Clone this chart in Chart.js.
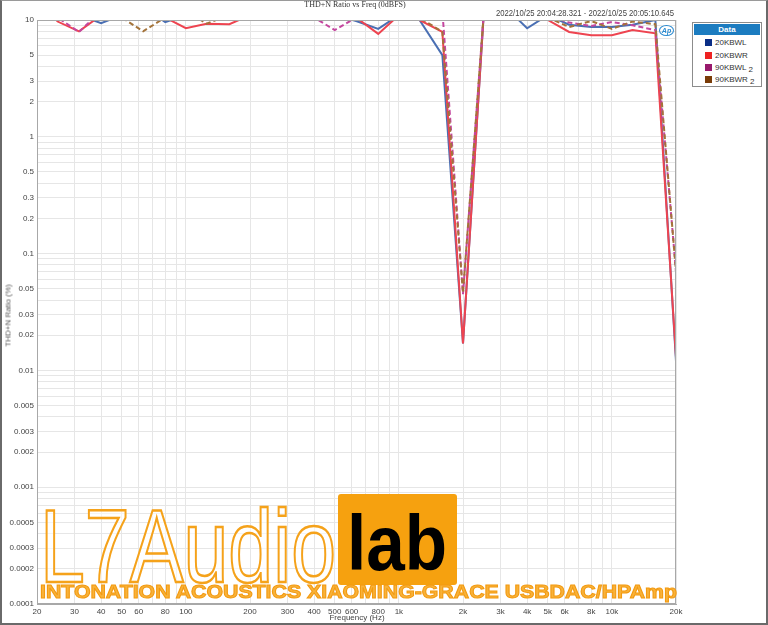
<!DOCTYPE html>
<html><head><meta charset="utf-8">
<script src="https://cdn.jsdelivr.net/npm/chart.js@4"></script>
<style>
html,body{margin:0;padding:0;background:#fff;}
#wrap{position:relative;width:768px;height:625px;overflow:hidden;box-sizing:border-box;}
#frame{position:absolute;left:0;top:0;width:768px;height:625px;box-sizing:border-box;border:2px solid #6a6a6a;border-top:1px solid #9a9a9a;pointer-events:none;}
canvas{position:absolute;left:0;top:0;}
.t{position:absolute;white-space:nowrap;font-family:"Liberation Sans",Arial,sans-serif;color:#444;}
#legend{position:absolute;left:692px;top:22px;width:70px;height:65px;border:1px solid #8c8c8c;background:#fff;box-sizing:border-box;font-family:"Liberation Sans",Arial,sans-serif;}
#legend .hd{height:11px;margin:1px 1px 0 1px;background:#1c7cc0;color:#fff;font-size:8px;font-weight:bold;text-align:center;line-height:11px;}
#legend .row{position:absolute;left:12px;font-size:8px;color:#333;line-height:9px;}
#legend .sw{display:inline-block;width:7px;height:7px;margin-right:3px;vertical-align:-1px;}
#legend .sb{position:relative;top:2px;font-size:8px;margin-left:2px;}
.wm{position:absolute;white-space:nowrap;font-family:"Liberation Sans",Arial,sans-serif;transform-origin:left top;}
</style></head>
<body>
<div id="wrap">
<canvas id="c" width="768" height="625"></canvas>
<div class="t" id="title" style="left:0;width:710px;top:0px;text-align:center;font-family:'Liberation Serif',serif;font-size:8px;color:#333;">THD+N Ratio vs Freq (0dBFS)</div>
<div class="t" id="stamp" style="top:8px;left:496px;font-size:9px;color:#444;transform-origin:left top;">2022/10/25 20:04:28.321 - 2022/10/25 20:05:10.645</div>
<div class="t" id="ytitle" style="left:-40px;top:311px;width:96px;text-align:center;font-size:8px;transform:rotate(-90deg);color:#555;">THD+N Ratio (%)</div>
<div class="t" id="xtitle" style="left:307px;width:100px;top:613px;text-align:center;font-size:8px;color:#444;">Frequency (Hz)</div>
<div class="t" style="left:659px;top:25px;width:15px;height:11px;border:1.5px solid #2a8ad0;border-radius:50%;box-sizing:border-box;color:#2a8ad0;font-size:7px;font-weight:bold;font-style:italic;text-align:center;line-height:9px;">Ap</div>
<div id="legend">
  <div class="hd">Data</div>
  <div class="row" style="top:15px"><span class="sw" style="background:#0b2e86"></span>20KBWL</div>
  <div class="row" style="top:28px"><span class="sw" style="background:#ee2222"></span>20KBWR</div>
  <div class="row" style="top:40px"><span class="sw" style="background:#98196c"></span>90KBWL<span class="sb">2</span></div>
  <div class="row" style="top:52px"><span class="sw" style="background:#7a3c08"></span>90KBWR<span class="sb">2</span></div>
</div>
<div class="wm" id="wmL7" style="left:40px;top:494px;font-size:104px;line-height:1;color:rgba(255,255,255,0.55);-webkit-text-stroke:2.5px #f5a21a;">L7Audio</div>
<div style="position:absolute;left:338px;top:494px;width:119px;height:91px;background:#f6a10f;border-radius:3px;"></div>
<div class="wm" id="wmLab" style="left:347px;top:504px;font-size:78px;line-height:1;font-weight:bold;color:#000;">lab</div>
<div class="wm" id="wmTxt" style="left:40px;top:582px;font-size:19px;line-height:1;font-weight:bold;color:#f8b23a;-webkit-text-stroke:1px #f39a10;">INTONATION ACOUSTICS XIAOMING-GRACE USBDAC/HPAmp</div>
<div id="frame"></div>
</div>
<script>
// ---- data ----
const freqs = [20,25,31.5,40,50,63,80,100,125,160,200,250,315,400,500,630,800,1000,1250,1600,2000,2500,3150,4000,5000,6300,8000,10000,12500,16000,20000];
const bw20L = [14,13,11,9.4,11,13,9.6,11,12,13,14,12,13,12,11,9.8,8.4,11,10,5.0,0.017,11,13,8.5,11,9.1,8.7,8.7,9.1,10,0.012];
const bw20R = [15,9.7,8.0,11,12,11,10.5,8.5,9.3,9.2,11,10,10.2,11,12,10.5,7.6,11,10,7.9,0.017,11,14,12,10,7.9,7.4,7.4,8.2,7.7,0.013];
const bw90L = [12,10.5,7.9,12,13,11,12,11,10.5,12,11,10.2,12,10.5,8.2,10.5,12,13,14,12,0.045,11,13,12,11,9.5,8.9,9.6,9.0,8.2,0.07];
const bw90R = [13,12,11,12,10.5,8.0,10.5,12,9.3,11,12,10,11,12,11,13,12,11,10.5,7.9,0.046,11,13,12,10.5,8.7,9.8,8.4,9.7,9.2,0.07];
const xLabelVals = [20,30,40,50,60,80,100,200,300,400,500,600,800,1000,2000,3000,4000,5000,6000,8000,10000,20000];
const xLabelText = ['20','30','40','50','60','80','100','200','300','400','500','600','800','1k','2k','3k','4k','5k','6k','8k','10k','20k'];
const yLabelVals = [10,5,3,2,1,0.5,0.3,0.2,0.1,0.05,0.03,0.02,0.01,0.005,0.003,0.002,0.001,0.0005,0.0003,0.0002,0.0001];
const yLabelText = ['10','5','3','2','1','0.5','0.3','0.2','0.1','0.05','0.03','0.02','0.01','0.005','0.003','0.002','0.001','0.0005','0.0003','0.0002','0.0001'];

function pts(arr){ return freqs.map((f,i)=>({x:f,y:arr[i]})); }
function logTicks(min,max){
  const out=[];
  for(let e=-5;e<=5;e++){ for(let m=1;m<=9;m++){ const v=+(m*Math.pow(10,e)).toPrecision(6); if(v>=min*0.9999 && v<=max*1.0001) out.push({value:v}); } }
  return out;
}
function near(a,b){ return Math.abs(a-b)/b < 1e-6; }

const framePlugin = {
  id:'frame',
  afterDraw(chart){
    const {ctx, chartArea:a} = chart;
    ctx.save(); ctx.strokeStyle='#a8a8a8'; ctx.lineWidth=1;
    ctx.strokeRect(a.left+0.5, a.top+0.5, a.right-a.left-1, a.bottom-a.top-1);
    ctx.restore();
  }
};

const tickFont = {family:'"Liberation Sans", Arial, sans-serif', size:8};
new Chart(document.getElementById('c'), {
  type:'line',
  data:{ datasets:[
    {label:'20KBWL', data:pts(bw20L), borderColor:'#4a6fb3', borderWidth:2, pointRadius:0, order:3, tension:0},
    {label:'20KBWR', data:pts(bw20R), borderColor:'#ee4450', borderWidth:2, pointRadius:0, order:2, tension:0},
    {label:'90KBWL 2', data:pts(bw90L), borderColor:'#c4479f', borderWidth:2, borderDash:[5,3], pointRadius:0, order:1, tension:0},
    {label:'90KBWR 2', data:pts(bw90R), borderColor:'#a4733a', borderWidth:2, borderDash:[5,3], pointRadius:0, order:0, tension:0}
  ]},
  options:{
    responsive:false, animation:false, devicePixelRatio:1,
    layout:{padding:{left:0, top:20, right:92, bottom:0}},
    plugins:{legend:{display:false}, tooltip:{enabled:false}, title:{display:false}},
    scales:{
      x:{ type:'logarithmic', min:20, max:20000,
        afterBuildTicks(s){ s.ticks = logTicks(20,20000); },
        afterFit(s){ s.height = 21; },
        grid:{color:'#e6e6e6', drawTicks:false, lineWidth:1},
        border:{color:'#a8a8a8'},
        ticks:{ autoSkip:false, maxRotation:0, padding:3, font:tickFont, color:'#444',
          callback(v){ const i = xLabelVals.findIndex(t=>near(v,t)); return i>=0 ? xLabelText[i] : ''; } }
      },
      y:{ type:'logarithmic', min:0.0001, max:10,
        afterBuildTicks(s){ s.ticks = logTicks(0.0001,10); },
        afterFit(s){ s.width = 37; },
        grid:{color:'#e6e6e6', drawTicks:false, lineWidth:1},
        border:{color:'#a8a8a8'},
        ticks:{ autoSkip:false, padding:3, font:tickFont, color:'#444',
          callback(v){ const i = yLabelVals.findIndex(t=>near(v,t)); return i>=0 ? yLabelText[i] : ''; } }
      }
    }
  },
  plugins:[framePlugin]
});

function fit(id, w){
  const el=document.getElementById(id);
  const r=el.getBoundingClientRect().width;
  el.style.transformOrigin='left top';
  el.style.transform='scaleX('+(w/r)+')';
}
fit('wmL7', 296);
fit('wmLab', 100);
fit('wmTxt', 637);
fit('stamp', 178);
</script>
</body></html>
